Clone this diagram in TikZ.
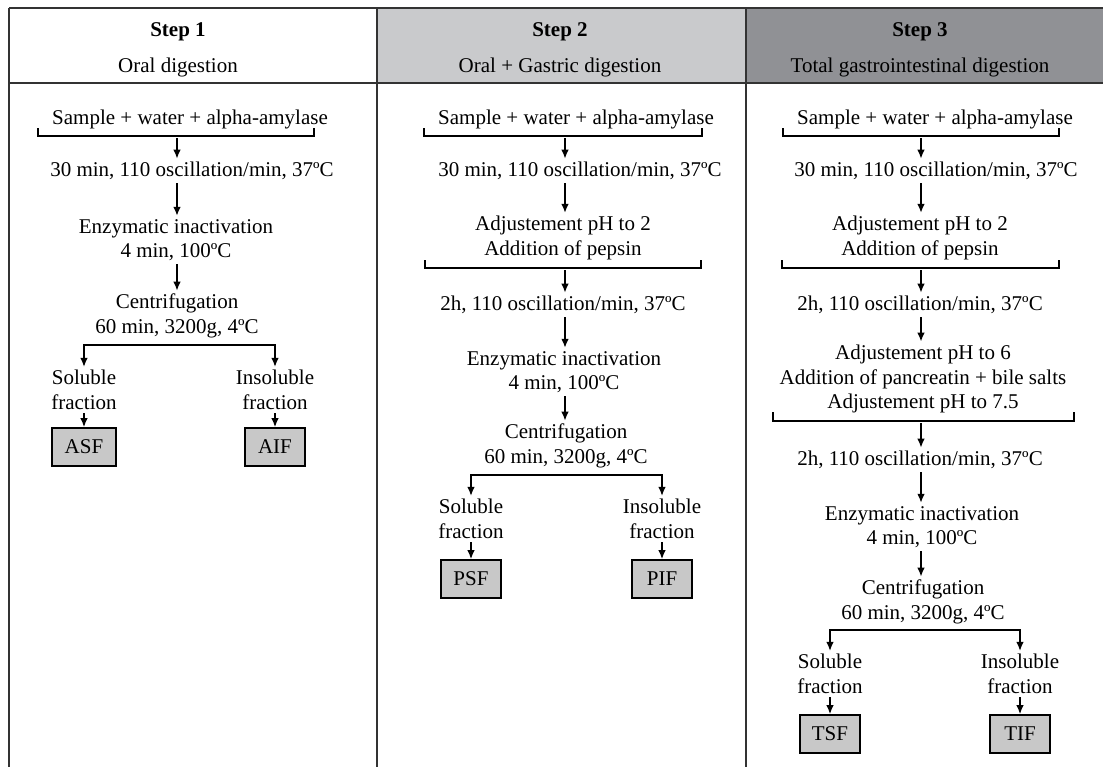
\documentclass[tikz,border=0pt]{standalone}
\usepackage{fontspec}
\setmainfont{Liberation Serif}
\usetikzlibrary{arrows.meta}
\definecolor{boxgray}{HTML}{C8C8C8}
\definecolor{hdrlight}{HTML}{C9CACC}
\definecolor{hdrdark}{HTML}{909195}
\begin{document}
\begin{tikzpicture}[
x=0.5pt, y=-0.5pt,
every node/.style={font=\fontsize{10.5}{12.25}\selectfont, align=center, inner sep=1.5pt, yshift=-1pt},
hdr/.style={font=\bfseries\fontsize{10.5}{12.25}\selectfont},
res/.style={draw, fill=boxgray, minimum width=30pt, minimum height=19pt, line width=0.8pt, yshift=1pt},
arr/.style={-{Latex[length=4.5pt,width=3.8pt]}, line width=0.8pt},
brk/.style={line width=0.6pt},
rule/.style={line width=1pt, draw=black!80}
]
\useasboundingbox (0,0) rectangle (1103,767);
\fill[hdrlight] (377,8) rectangle (746,83);
\fill[hdrdark] (746,8) rectangle (1103,83);
\draw[rule] (9,8) -- (1103,8) (9,83) -- (1103,83);
\draw[rule] (9,8) -- (9,767) (377,8) -- (377,767) (746,8) -- (746,767);

\node[hdr] (h1) at (178,30) {Step 1};
\node (t1) at (178,65) {Oral digestion};
\node[hdr] (h2) at (560,30) {Step 2};
\node (t2) at (560,65) {Oral + Gastric digestion};
\node[hdr] (h3) at (920,30) {Step 3};
\node (t3) at (920,65) {Total gastrointestinal digestion};

\node (s1) at (190,117) {Sample + water + alpha-amylase};
\draw[brk] (38,128) |- (314,136) -- (314,128);
\coordinate (b1) at (177,136);
\node (o1) at (192,169) {30 min, 110 oscillation/min, 37ºC};
\node (e1) at (176,238) {Enzymatic inactivation\\4 min, 100ºC};
\node (c1) at (177,314) {Centrifugation\\60 min, 3200g, 4ºC};
\coordinate (k1) at (177,343);
\node (sf1) at (84,388) {Soluble\\fraction};
\node (if1) at (275,388) {Insoluble\\fraction};
\node[res, minimum width=32pt] (asf) at (84,447) {ASF};
\node[res] (aif) at (275,447) {AIF};
\draw[arr] (b1) -- (b1 |- o1.north);
\draw[arr] (o1.south -| b1) -- (b1 |- e1.north);
\draw[arr] (e1.south -| b1) -- (b1 |- c1.north);
\draw[arr] (k1) -| (sf1);
\draw[arr] (k1) -| (if1);
\draw[arr] (sf1) -- (asf);
\draw[arr] (if1) -- (aif);

\node (s2) at (576,117) {Sample + water + alpha-amylase};
\draw[brk] (424,128) |- (702,136) -- (702,128);
\coordinate (b2) at (565,136);
\node (o2) at (580,169) {30 min, 110 oscillation/min, 37ºC};
\node (p2) at (563,236) {Adjustement pH to 2\\Addition of pepsin};
\draw[brk] (425,260) |- (701,268) -- (701,260);
\coordinate (d2) at (565,268);
\node (g2) at (563,303) {2h, 110 oscillation/min, 37ºC};
\node (e2) at (564,370) {Enzymatic inactivation\\4 min, 100ºC};
\node (c2) at (566,444) {Centrifugation\\60 min, 3200g, 4ºC};
\coordinate (k2) at (566,473);
\node (sf2) at (471,517) {Soluble\\fraction};
\node (if2) at (662,517) {Insoluble\\fraction};
\node[res] (psf) at (471,579) {PSF};
\node[res] (pif) at (662,579) {PIF};
\draw[arr] (b2) -- (b2 |- o2.north);
\draw[arr] (o2.south -| b2) -- (b2 |- p2.north);
\draw[arr] (d2) -- (d2 |- g2.north);
\draw[arr] (g2.south -| d2) -- (d2 |- e2.north);
\draw[arr] (e2.south -| d2) -- (d2 |- c2.north);
\draw[arr] (k2) -| (sf2);
\draw[arr] (k2) -| (if2);
\draw[arr] (sf2) -- (psf);
\draw[arr] (if2) -- (pif);

\node (s3) at (935,117) {Sample + water + alpha-amylase};
\draw[brk] (783,128) |- (1059,136) -- (1059,128);
\coordinate (b3) at (921,136);
\node (o3) at (936,169) {30 min, 110 oscillation/min, 37ºC};
\node (p3) at (920,236) {Adjustement pH to 2\\Addition of pepsin};
\draw[brk] (782,260) |- (1059,268) -- (1059,260);
\coordinate (d3) at (921,268);
\node (g3) at (920,303) {2h, 110 oscillation/min, 37ºC};
\node (q3) at (923,377) {Adjustement pH to 6\\Addition of pancreatin + bile salts\\Adjustement pH to 7.5};
\draw[brk] (773,412) |- (1074,421) -- (1074,412);
\coordinate (m3) at (921,421);
\node (n3) at (920,458) {2h, 110 oscillation/min, 37ºC};
\node (e3) at (922,525) {Enzymatic inactivation\\4 min, 100ºC};
\node (c3) at (923,600) {Centrifugation\\60 min, 3200g, 4ºC};
\coordinate (k3) at (923,628);
\node (sf3) at (830,672) {Soluble\\fraction};
\node (if3) at (1020,672) {Insoluble\\fraction};
\node[res] (tsf) at (830,734) {TSF};
\node[res] (tif) at (1020,734) {TIF};
\draw[arr] (b3) -- (b3 |- o3.north);
\draw[arr] (o3.south -| b3) -- (b3 |- p3.north);
\draw[arr] (d3) -- (d3 |- g3.north);
\draw[arr] (g3.south -| d3) -- (d3 |- q3.north);
\draw[arr] (m3) -- (m3 |- n3.north);
\draw[arr] (n3.south -| m3) -- (m3 |- e3.north);
\draw[arr] (e3.south -| m3) -- (m3 |- c3.north);
\draw[arr] (k3) -| (sf3);
\draw[arr] (k3) -| (if3);
\draw[arr] (sf3) -- (tsf);
\draw[arr] (if3) -- (tif);
\end{tikzpicture}
\end{document}
